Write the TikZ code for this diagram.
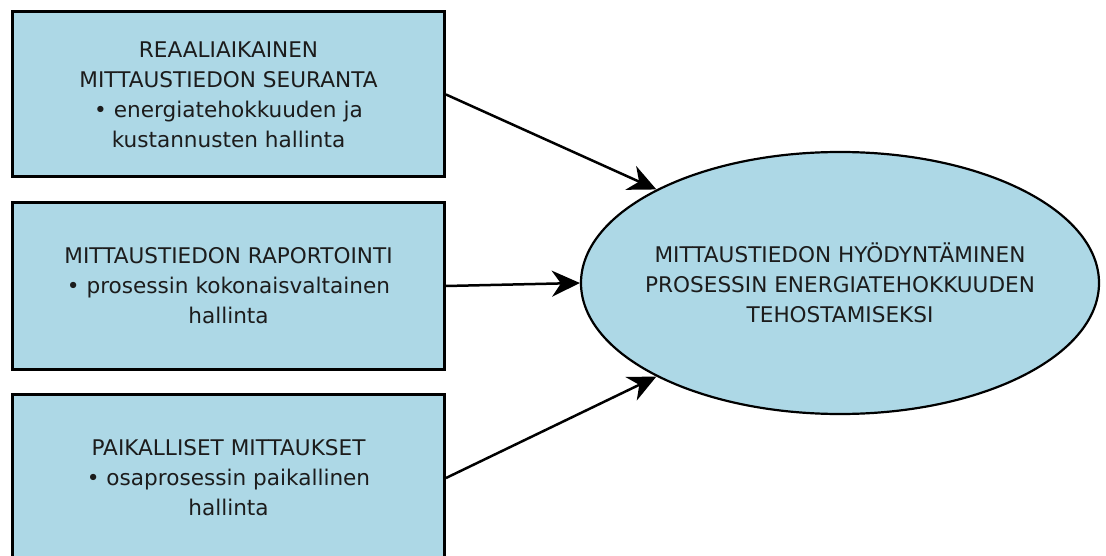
\documentclass[tikz,border=0pt]{standalone}
\usepackage{fontspec}
\setmainfont{DejaVu Sans}
\usetikzlibrary{arrows.meta,shapes.geometric}
\definecolor{boxfill}{HTML}{ADD8E6}
\definecolor{inkcol}{HTML}{1C1C1C}
\begin{document}
\begin{tikzpicture}[x=1pt,y=-1pt,
  labelfont/.style={text=inkcol, font=\fontsize{21.6}{30}\selectfont},
  infobox/.style={draw=black, line width=3pt, fill=boxfill, minimum width=432pt,
    inner sep=0pt, align=center, labelfont},
  goal/.style={ellipse, draw=black, line width=2.2pt, fill=boxfill,
    minimum width=518pt, minimum height=262pt, inner xsep=-25pt, inner ysep=0pt,
    align=center, labelfont},
  link/.style={line width=2.5pt, -{Stealth[length=28pt,width=26pt,inset=9pt]}}]
\clip (0,0) rectangle (1106,556);

% three information sources
\node[infobox, minimum height=165pt] (seuranta) at (228.5,94.5)
  {REAALIAIKAINEN\\MITTAUSTIEDON SEURANTA\\• energiatehokkuuden ja\\kustannusten hallinta};
\node[infobox, minimum height=166pt] (raportointi) at (228.5,286)
  {MITTAUSTIEDON RAPORTOINTI\\• prosessin kokonaisvaltainen\\hallinta};
\node[infobox, minimum height=168pt] (paikalliset) at (228.5,478)
  {PAIKALLISET MITTAUKSET\\• osaprosessin paikallinen\\hallinta};

% common goal
\node[goal] (hyoty) at (840,283)
  {MITTAUSTIEDON HYÖDYNTÄMINEN\\PROSESSIN ENERGIATEHOKKUUDEN\\TEHOSTAMISEKSI};

% connectors
\draw[link] (seuranta.east) -- (hyoty.153);
\draw[link] (raportointi.east) -- (hyoty.west);
\draw[link] (paikalliset.east) -- (hyoty.207);
\end{tikzpicture}
\end{document}
